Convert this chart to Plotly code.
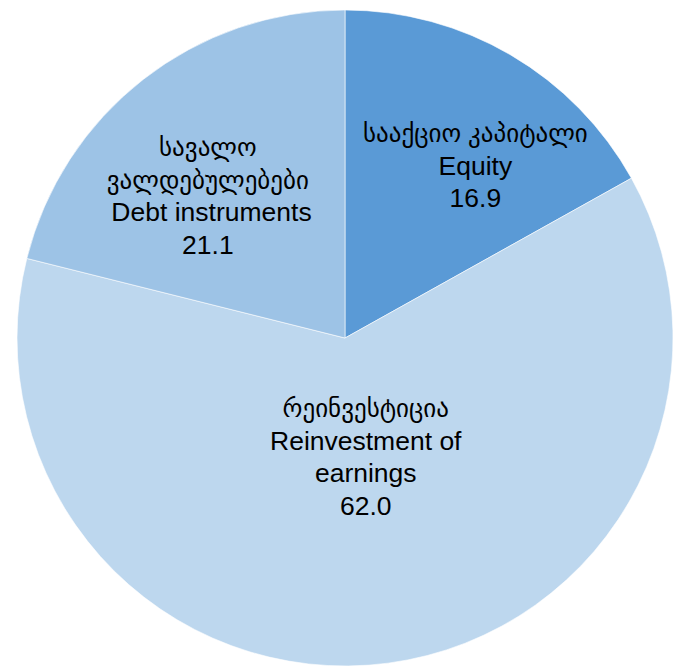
import plotly.graph_objects as go

categories_ka = ["სააქციო კაპიტალი", "რეინვესტიცია", "სავალო<br>ვალდებულებები"]
categories_en = ["Equity", "Reinvestment of<br>earnings", " Debt instruments"]
values = [16.9, 62.0, 21.1]
colors = ["#5a9ad6", "#bdd7ee", "#9dc3e6"]

W, H = 673, 672
cx, cy, R = 345, 338, 328

fig = go.Figure(go.Pie(
    labels=[e.replace("<br>", " ") for e in categories_en],
    values=values,
    sort=False,
    direction="clockwise",
    rotation=0,
    marker=dict(colors=colors, line=dict(color="#ffffff", width=0.6)),
    textinfo="none",
    hoverinfo="label+value",
    showlegend=False,
    domain=dict(x=[(cx - R) / W, (cx + R) / W], y=[1 - (cy + R) / H, 1 - (cy - R) / H]),
))

# label block centres (pixels)
label_pos = [(475, 166), (366, 457), (208, 196)]
font = dict(family="Liberation Sans, Arial, DejaVu Sans, sans-serif", size=25, color="#000000")
for ka, en, v, (px, py) in zip(categories_ka, categories_en, values, label_pos):
    en_lines = "<br>".join(f"<span style='font-size:26.5px'>{s}</span>" for s in en.split("<br>"))
    fig.add_annotation(
        x=px / W, y=1 - py / H, xref="paper", yref="paper",
        text=f"{ka}<br>{en_lines}<br><span style='font-size:26.5px'>{v:.1f}</span>",
        showarrow=False,
        font=font, align="center", xanchor="center", yanchor="middle",
    )

fig.update_layout(
    width=W, height=H,
    margin=dict(l=0, r=0, t=0, b=0),
    paper_bgcolor="#ffffff", plot_bgcolor="#ffffff",
)

fig.write_html("out.html", config={"displayModeBar": False},
               post_script="document.body.style.margin='0px';")
